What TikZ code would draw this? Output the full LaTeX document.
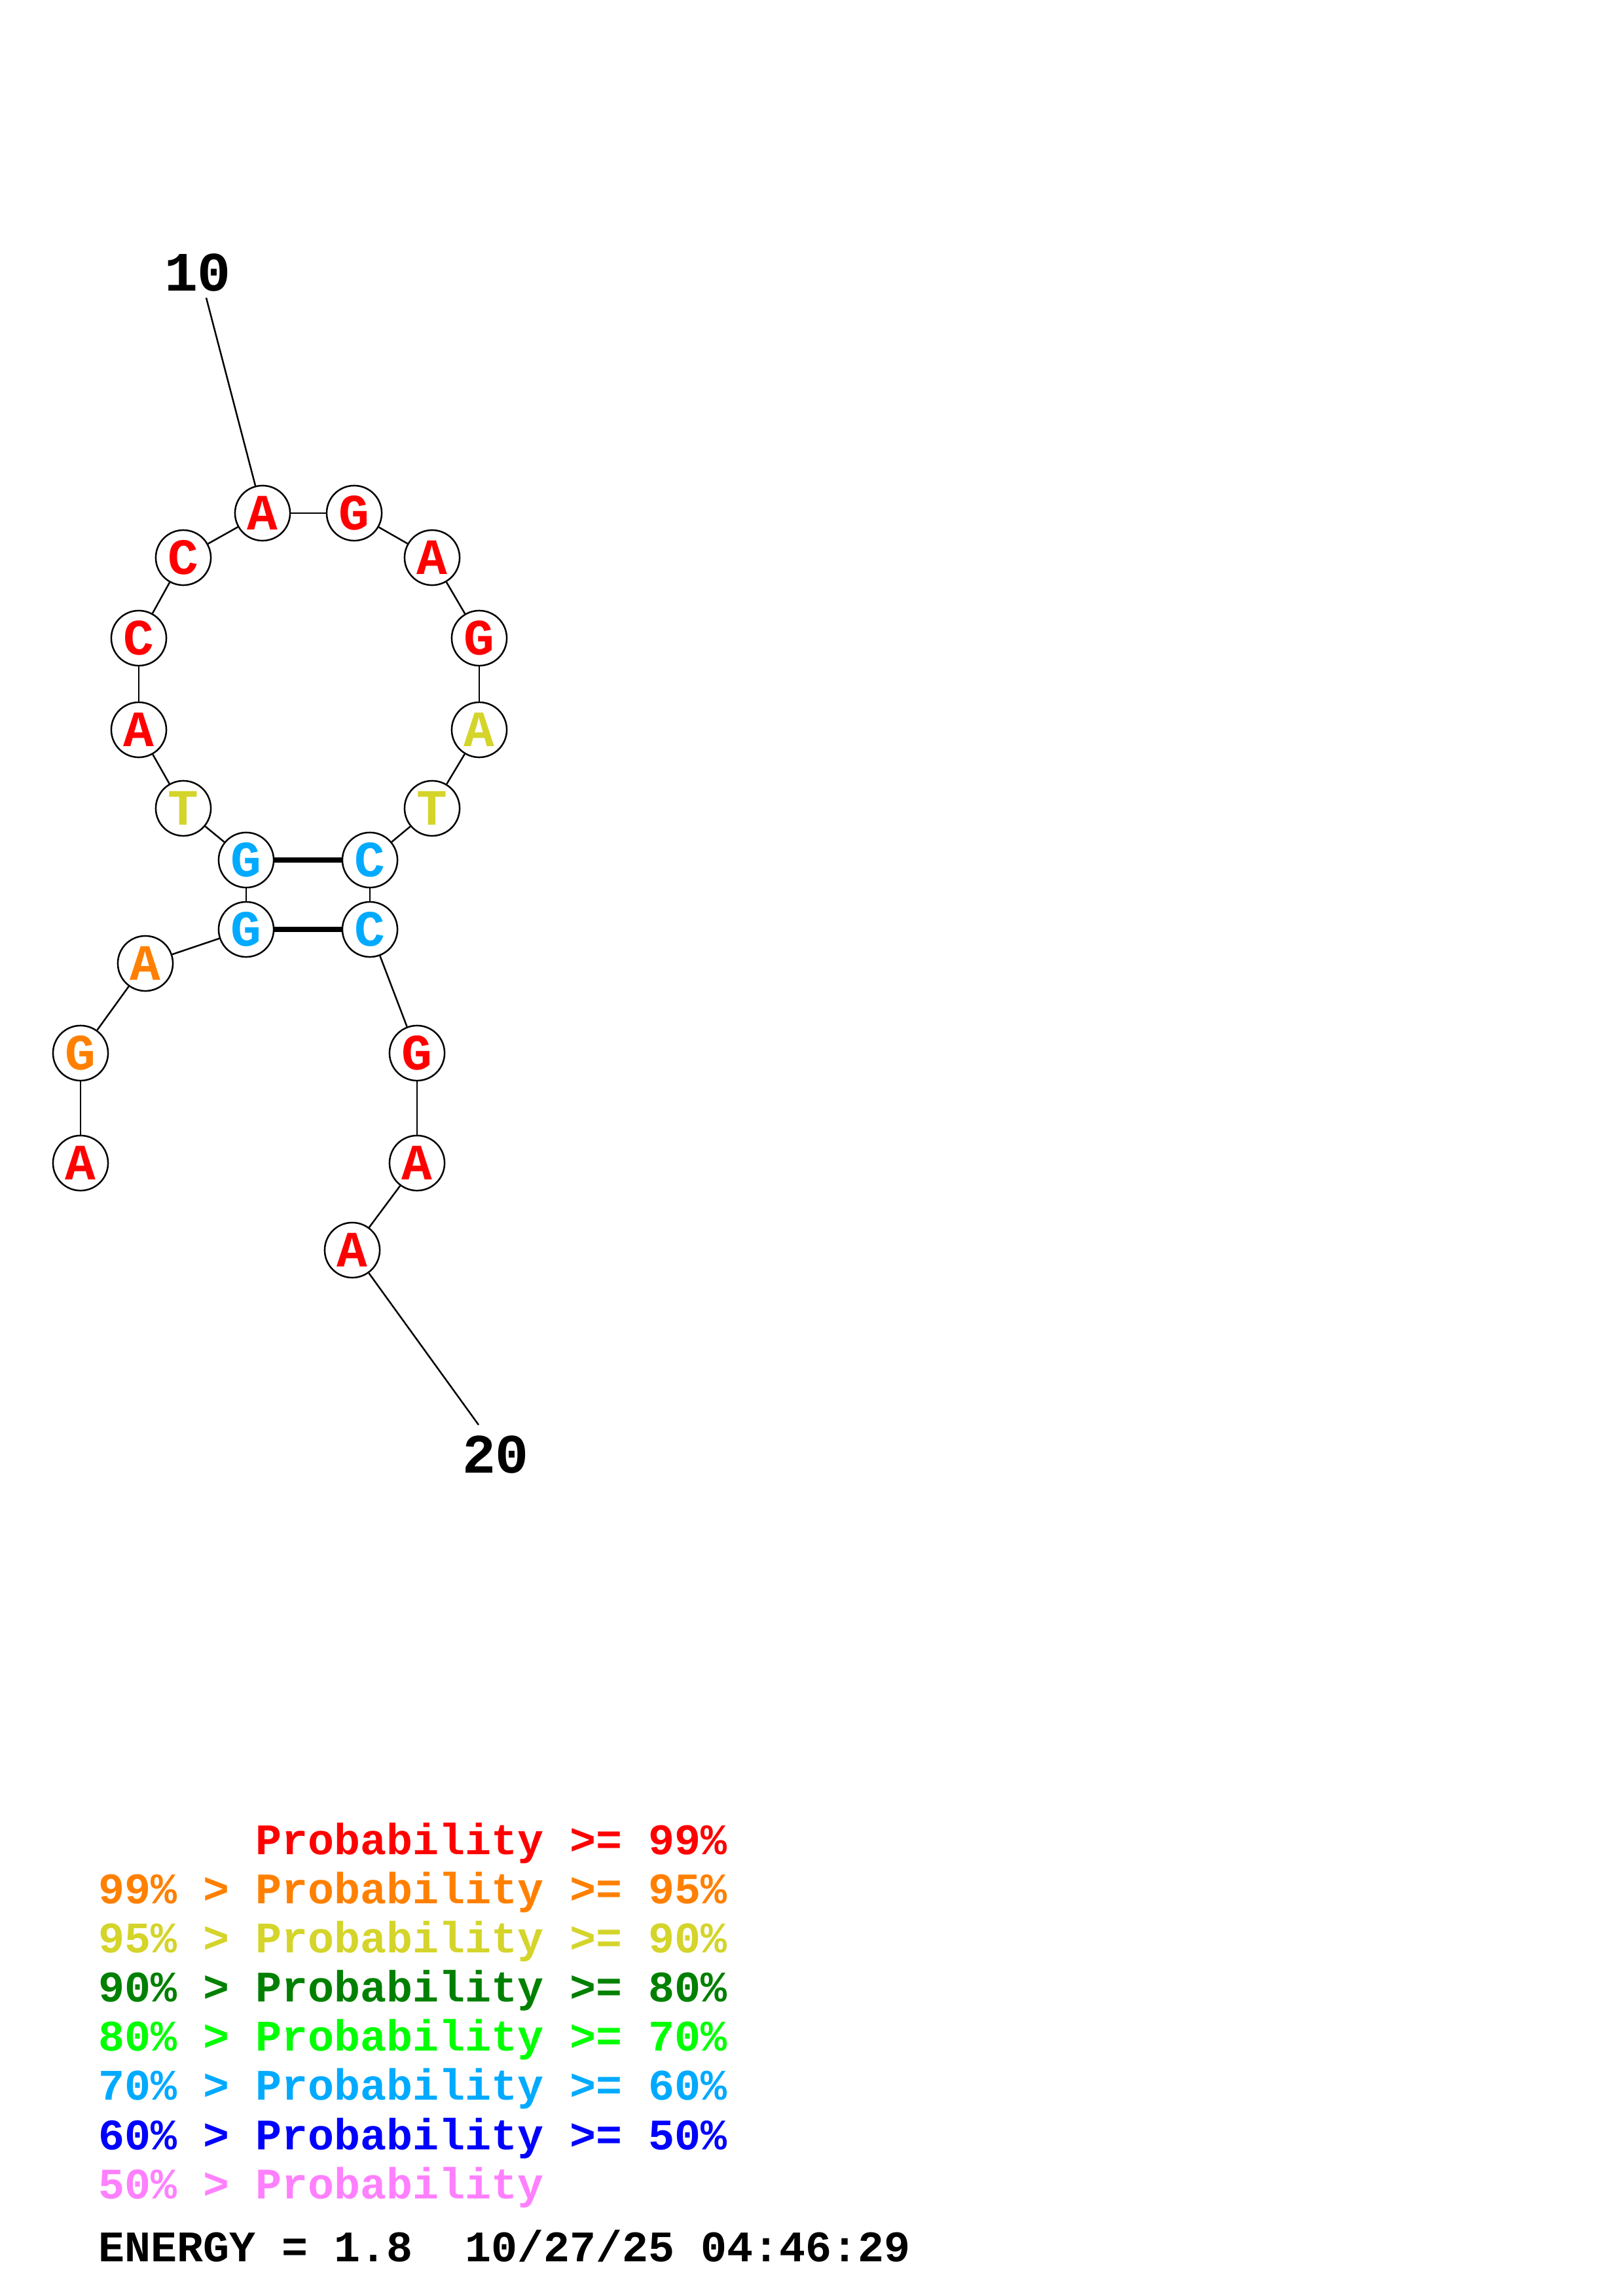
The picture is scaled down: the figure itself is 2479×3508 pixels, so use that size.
\documentclass[tikz,border=0pt]{standalone}
\usepackage{xcolor}
\usepackage{tikz}
\usepackage{fontspec}
\setmainfont{Liberation Mono}

\definecolor{pRed}{HTML}{FF0000}
\definecolor{pOrange}{HTML}{FF8000}
\definecolor{pYellow}{HTML}{D4D42A}
\definecolor{pDkGreen}{HTML}{008000}
\definecolor{pGreen}{HTML}{00FF00}
\definecolor{pSky}{HTML}{00AAFF}
\definecolor{pBlue}{HTML}{0000FF}
\definecolor{pPink}{HTML}{FF80FF}

\tikzset{
  base/.style={draw=black, circle, line width=0.6pt, fill=white, minimum size=20.2pt, inner sep=0pt, font=\fontsize{18.7}{18.7}\selectfont\bfseries},
  bb/.style={draw=black, line width=0.6pt},
  pair/.style={draw=black, line width=1.8pt},
  tick/.style={inner sep=0pt, font=\fontsize{20.4}{20.4}\selectfont\bfseries},
  legend/.style={anchor=base west, inner sep=0pt, font=\fontsize{16}{16}\selectfont\bfseries}
}

\begin{document}
\begin{tikzpicture}[x=0.24013pt, y=-0.24013pt]
			\useasboundingbox (0,0) rectangle (2479,3508);
			% bases
			\node[base, text=pRed] (n1) at (123,1777) {A};
			\node[base, text=pOrange] (n2) at (123,1609) {G};
			\node[base, text=pOrange] (n3) at (222,1472) {A};
			\node[base, text=pSky] (n4) at (376,1420) {G};
			\node[base, text=pSky] (n5) at (376,1314) {G};
			\node[base, text=pYellow] (n6) at (280,1235) {T};
			\node[base, text=pRed] (n7) at (212,1115) {A};
			\node[base, text=pRed] (n8) at (212,975) {C};
			\node[base, text=pRed] (n9) at (280,852) {C};
			\node[base, text=pRed] (n10) at (401,784) {A};
			\node[base, text=pRed] (n11) at (541,784) {G};
			\node[base, text=pRed] (n12) at (660,852) {A};
			\node[base, text=pRed] (n13) at (732,975) {G};
			\node[base, text=pYellow] (n14) at (732,1115) {A};
			\node[base, text=pYellow] (n15) at (660,1235) {T};
			\node[base, text=pSky] (n16) at (565,1314) {C};
			\node[base, text=pSky] (n17) at (565,1420) {C};
			\node[base, text=pRed] (n18) at (637,1609) {G};
			\node[base, text=pRed] (n19) at (637,1777) {A};
			\node[base, text=pRed] (n20) at (538,1910) {A};
			% backbone
			\draw[bb] (n1) -- (n2);
			\draw[bb] (n2) -- (n3);
			\draw[bb] (n3) -- (n4);
			\draw[bb] (n4) -- (n5);
			\draw[bb] (n5) -- (n6);
			\draw[bb] (n6) -- (n7);
			\draw[bb] (n7) -- (n8);
			\draw[bb] (n8) -- (n9);
			\draw[bb] (n9) -- (n10);
			\draw[bb] (n10) -- (n11);
			\draw[bb] (n11) -- (n12);
			\draw[bb] (n12) -- (n13);
			\draw[bb] (n13) -- (n14);
			\draw[bb] (n14) -- (n15);
			\draw[bb] (n15) -- (n16);
			\draw[bb] (n16) -- (n17);
			\draw[bb] (n17) -- (n18);
			\draw[bb] (n18) -- (n19);
			\draw[bb] (n19) -- (n20);
			% pairs
			\draw[pair] (n5) -- (n16);
			\draw[pair] (n4) -- (n17);
			% numbering
			\node[tick] (lab10) at (302,416) {10};
			\coordinate (c10) at (315,455);
			\draw[bb] (c10) -- (n10);
			\node[tick] (lab20) at (757,2222) {20};
			\coordinate (c20) at (731,2177);
			\draw[bb] (n20) -- (c20);
			% legend
			\node[legend, text=pRed] (l1) at (390,2833) {Probability >= 99\%};
			\node[legend, text=pOrange] (l2) at (150,2908) {99\% > Probability >= 95\%};
			\node[legend, text=pYellow] (l3) at (150,2983) {95\% > Probability >= 90\%};
			\node[legend, text=pDkGreen] (l4) at (150,3058) {90\% > Probability >= 80\%};
			\node[legend, text=pGreen] (l5) at (150,3133) {80\% > Probability >= 70\%};
			\node[legend, text=pSky] (l6) at (150,3208) {70\% > Probability >= 60\%};
			\node[legend, text=pBlue] (l7) at (150,3284) {60\% > Probability >= 50\%};
			\node[legend, text=pPink] (l8) at (150,3359) {50\% > Probability};
			\node[legend, text=black] (energy) at (150,3455) {ENERGY = 1.8\ \ 10/27/25 04:46:29};
		\end{tikzpicture}
\end{document}
